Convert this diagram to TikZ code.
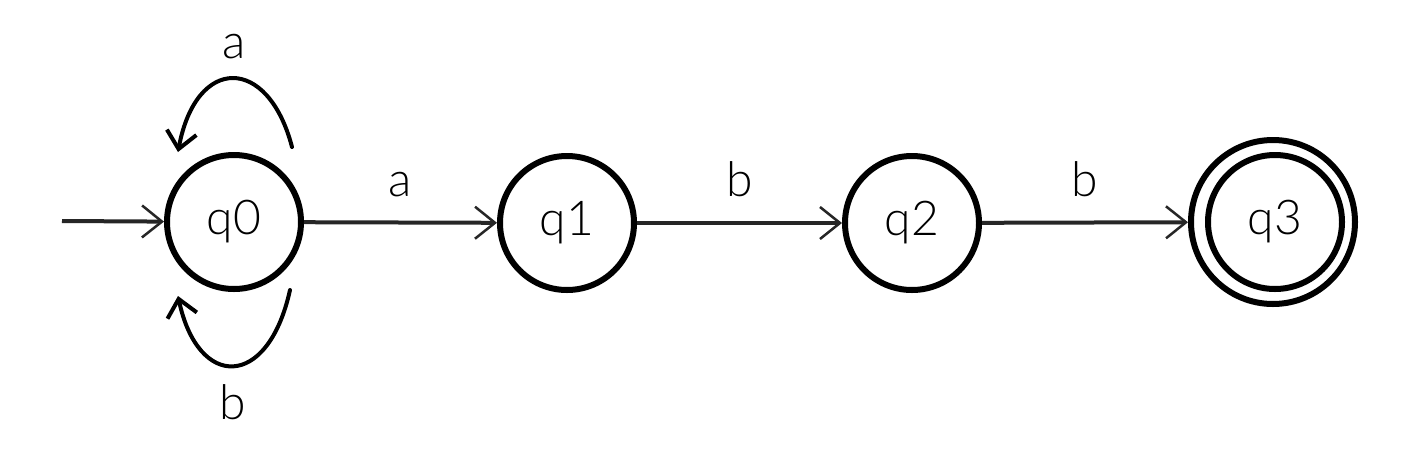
\documentclass[tikz,border=0pt]{standalone}
\usepackage{fontspec}
\newfontfamily\thinfont{Lato Light}
\usetikzlibrary{arrows.meta}
\begin{document}
\begin{tikzpicture}[x=1pt,y=-1pt,
  state/.style={circle,draw,line width=6pt,minimum size=134pt,inner sep=0pt,font=\thinfont\fontsize{48}{48}\selectfont},
  ring/.style={circle,draw,line width=6pt,minimum size=164pt,inner sep=0pt},
  edge/.style={draw=black!85,line width=4pt,-{Straight Barb[length=20pt,width=32pt,line width=2.5pt]}},
  loopedge/.style={draw,line width=4pt,line cap=round,-{Straight Barb[length=17pt,width=30pt,line width=4pt]}},
  lbl/.style={inner sep=0pt,font=\thinfont\fontsize{48}{48}\selectfont}]
\useasboundingbox (0,0) rectangle (1428,448);
\fill[white] (0,0) rectangle (1428,448);
\node[state] (q0) at (234,222) {q0};
\node[state] (q1) at (567,223) {q1};
\node[state] (q2) at (912,223) {q2};
\node[state] (q3) at (1275,222) {q3};
\node[ring] (q3o) at (1273,222) {};
\coordinate (start) at (62,221);
\coordinate (la1) at (292,147);
\coordinate (la2) at (178,152);
\coordinate (lb1) at (290,290);
\coordinate (lb2) at (178,296);
\draw[edge] (start) -- (q0);
\draw[edge] (q0) -- node[lbl,above=24pt] {a} (q1);
\draw[edge] (q1) -- node[lbl,above=24pt] {b} (q2);
\draw[edge] (q2) -- node[lbl,above=24pt] {b} (q3o);
\draw[loopedge] (la1) .. controls (268,55) and (196,55) .. (la2);
\draw[loopedge] (lb1) .. controls (268,390) and (198,390) .. (lb2);
\node[lbl] (la) at (234,47) {a};
\node[lbl] (lb) at (233,402) {b};
\end{tikzpicture}
\end{document}
